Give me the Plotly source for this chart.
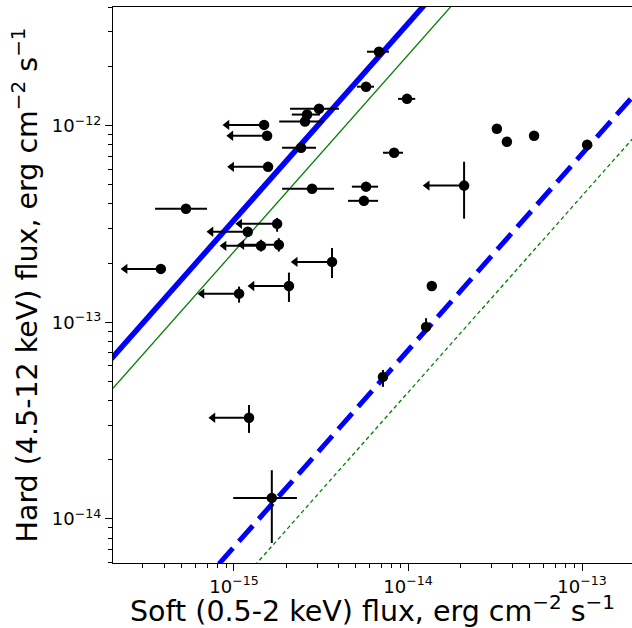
import plotly.graph_objects as go
import numpy as np

# ---- data ----
det_x = [6.81e-15, 5.74e-15, 9.87e-15, 3.08e-15, 2.63e-15, 2.56e-15, 2.43e-15, 8.32e-15,
         2.81e-15, 5.30e-16, 5.74e-15, 5.58e-15, 1.65e-15, 3.24e-14, 3.70e-14, 5.30e-14,
         1.07e-13, 1.37e-14, 1.27e-14, 7.18e-15]
det_y = [2.38e-12, 1.58e-12, 1.37e-12, 1.22e-12, 1.14e-12, 1.05e-12, 7.73e-13, 7.29e-13,
         4.78e-13, 3.78e-13, 4.90e-13, 4.15e-13, 1.28e-14, 9.66e-13, 8.29e-13, 8.89e-13,
         8.00e-13, 1.53e-13, 9.48e-14, 5.28e-14]
det_xlo = [5.81e-15, 5.09e-15, 8.77e-15, 2.10e-15, 2.15e-15, 1.82e-15, 1.89e-15, 7.18e-15,
           1.89e-15, 3.52e-16, 4.76e-15, 4.52e-15, 9.90e-16, 3.24e-14, 3.70e-14, 5.30e-14,
           1.07e-13, 1.37e-14, 1.27e-14, 7.18e-15]
det_xhi = [7.78e-15, 6.38e-15, 1.10e-14, 4.01e-15, 3.12e-15, 3.29e-15, 2.96e-15, 9.36e-15,
           3.76e-15, 7.00e-16, 6.73e-15, 6.73e-15, 2.30e-15, 3.24e-14, 3.70e-14, 5.30e-14,
           1.07e-13, 1.37e-14, 1.27e-14, 7.18e-15]
det_ylo = [2.38e-12, 1.58e-12, 1.37e-12, 1.22e-12, 1.14e-12, 1.05e-12, 7.73e-13, 7.29e-13,
           4.78e-13, 3.78e-13, 4.90e-13, 3.92e-13, 7.55e-15, 9.66e-13, 8.29e-13, 8.89e-13,
           8.00e-13, 1.53e-13, 8.95e-14, 4.70e-14]
det_yhi = [2.38e-12, 1.58e-12, 1.37e-12, 1.22e-12, 1.14e-12, 1.05e-12, 7.73e-13, 7.29e-13,
           4.78e-13, 3.78e-13, 4.90e-13, 4.35e-13, 1.77e-14, 9.66e-13, 8.29e-13, 8.89e-13,
           8.00e-13, 1.53e-13, 1.05e-13, 5.73e-14]

# soft-band upper limits
ul_x = [1.49e-15, 1.55e-15, 1.57e-15, 1.77e-15, 1.20e-15, 1.43e-15, 1.81e-15,
        3.80e-16, 3.66e-15, 2.07e-15, 1.07e-15, 2.10e-14, 1.22e-15]
ul_y = [1.01e-12, 8.89e-13, 6.18e-13, 3.17e-13, 2.89e-13, 2.45e-13, 2.48e-13,
        1.87e-13, 2.03e-13, 1.53e-13, 1.40e-13, 4.96e-13, 3.27e-14]
ul_tip = [9.12e-16, 9.60e-16, 9.70e-16, 1.08e-15, 7.38e-16, 8.77e-16, 1.11e-15,
          2.37e-16, 2.25e-15, 1.27e-15, 6.55e-16, 1.29e-14, 7.57e-16]
ul_ylo = [1.01e-12, 8.89e-13, 6.18e-13, 2.89e-13, 2.89e-13, 2.29e-13, 2.29e-13,
          1.87e-13, 1.68e-13, 1.27e-13, 1.26e-13, 3.37e-13, 2.74e-14]
ul_yhi = [1.01e-12, 8.89e-13, 6.18e-13, 3.40e-13, 2.89e-13, 2.63e-13, 2.68e-13,
          1.87e-13, 2.39e-13, 1.79e-13, 1.52e-13, 6.56e-13, 3.80e-14]

# constant hard/soft ratio lines
line_ratio = [331.0, 229.0, 7.2, 4.4]
line_color = ["#0000ff", "#008000", "#0000ff", "#008000"]
line_width = [5.5, 1.3, 5, 1.3]
line_dash = ["solid", "solid", "21px,9px", "4px,3px"]
line_x = [1e-16, 1e-12]

x_ticks = [1e-15, 1e-14, 1e-13]
x_ticktext = ["10<sup>\u221215</sup>", "10<sup>\u221214</sup>", "10<sup>\u221213</sup>"]
y_ticks = [1e-14, 1e-13, 1e-12]
y_ticktext = ["10<sup>\u221214</sup>", "10<sup>\u221213</sup>", "10<sup>\u221212</sup>"]

FONT = "DejaVu Sans"

fig = go.Figure()

for r, c, w, d in zip(line_ratio, line_color, line_width, line_dash):
    fig.add_trace(go.Scatter(x=line_x, y=[r * v for v in line_x], mode="lines",
                             line=dict(color=c, width=w, dash=d), hoverinfo="skip",
                             showlegend=False))

dx = np.array(det_x); dy = np.array(det_y)
fig.add_trace(go.Scatter(
    x=det_x, y=det_y, mode="markers",
    marker=dict(color="black", size=10.5, symbol="circle"),
    error_x=dict(type="data", symmetric=False, array=list(np.array(det_xhi) - dx),
                 arrayminus=list(dx - np.array(det_xlo)), color="black", thickness=2, width=0),
    error_y=dict(type="data", symmetric=False, array=list(np.array(det_yhi) - dy),
                 arrayminus=list(dy - np.array(det_ylo)), color="black", thickness=2, width=0),
    showlegend=False))

ux = np.array(ul_x); uy = np.array(ul_y)
fig.add_trace(go.Scatter(
    x=ul_x, y=ul_y, mode="markers",
    marker=dict(color="black", size=10.5, symbol="circle"),
    error_x=dict(type="data", symmetric=False, array=[0] * len(ul_x),
                 arrayminus=list(ux - np.array(ul_tip)), color="black", thickness=2, width=0),
    error_y=dict(type="data", symmetric=False, array=list(np.array(ul_yhi) - uy),
                 arrayminus=list(uy - np.array(ul_ylo)), color="black", thickness=2, width=0),
    showlegend=False))
fig.add_trace(go.Scatter(
    x=ul_tip, y=ul_y, mode="markers",
    marker=dict(color="black", size=9, symbol="triangle-left"),
    showlegend=False))

def minor_vals(lo, hi):
    out = []
    for e in range(lo, hi + 1):
        for m in range(2, 10):
            out.append(m * 10.0 ** e)
    return out

fig.update_xaxes(
    type="log", range=[-15.695, -12.713],
    tickmode="array", tickvals=x_ticks, ticktext=x_ticktext,
    ticks="outside", ticklen=7, tickwidth=1.2, tickcolor="black",
    minor=dict(tickmode="array", tickvals=minor_vals(-17, -13), ticks="outside",
               ticklen=4, tickwidth=1, tickcolor="black", showgrid=False),
    showline=True, linecolor="black", linewidth=1.2, mirror=True,
    showgrid=False, zeroline=False,
    tickfont=dict(family=FONT, size=18, color="black"),
    title=dict(text="Soft (0.5-2 keV) flux, erg cm<sup>\u22122</sup> s<sup>\u22121</sup>",
               font=dict(family=FONT, size=28.5, color="black"), standoff=5),
)
fig.update_yaxes(
    type="log", range=[-14.224, -11.396],
    tickmode="array", tickvals=y_ticks, ticktext=y_ticktext,
    ticks="outside", ticklen=7, tickwidth=1.2, tickcolor="black",
    minor=dict(tickmode="array", tickvals=minor_vals(-15, -12), ticks="outside",
               ticklen=4, tickwidth=1, tickcolor="black", showgrid=False),
    showline=True, linecolor="black", linewidth=1.2, mirror=False,
    showgrid=False, zeroline=False,
    tickfont=dict(family=FONT, size=18, color="black"),
    title=dict(text="Hard (4.5-12 keV) flux, erg cm<sup>\u22122</sup> s<sup>\u22121</sup>",
               font=dict(family=FONT, size=28.5, color="black"), standoff=5),
)
fig.update_layout(
    width=632, height=628,
    margin=dict(l=113, r=0, t=7, b=65),
    plot_bgcolor="white", paper_bgcolor="white",
    showlegend=False,
)
fig.write_html("out.html")
